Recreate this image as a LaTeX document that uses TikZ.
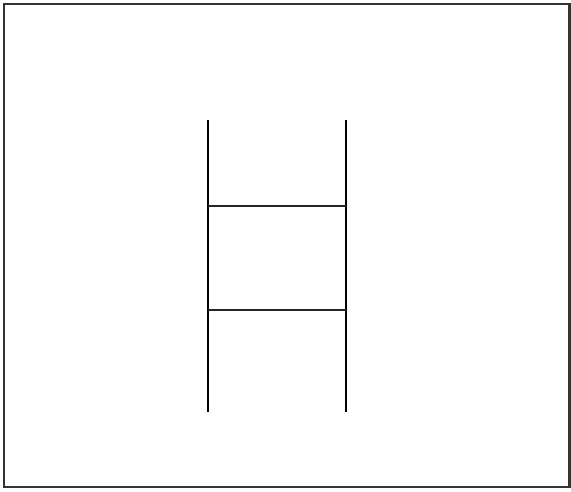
\documentclass[tikz,border=0pt]{standalone}
\usepackage{tikz}
\tikzset{
  frame/.style={draw=black!80, line width=1.2pt},
  rail/.style={draw=black, line width=1.1pt},
  rung/.style={draw=black!85, line width=1.1pt}
}

\begin{document}
\begin{tikzpicture}[x=0.02cm, y=-0.02cm]

    % bounding box (reference size)
    \useasboundingbox (0,0) rectangle (571,491);

    % outer frame
    \draw[frame] (4,4) rectangle (569.5,487);

    % rails
    \coordinate (LT) at (208,120);
    \coordinate (LB) at (208,412);
    \coordinate (RT) at (346,120);
    \coordinate (RB) at (346,412);
    \draw[rail] (LT) -- (LB);
    \draw[rail] (RT) -- (RB);

    % rungs
    \coordinate (L1) at (208,206);
    \coordinate (R1) at (346,206);
    \coordinate (L2) at (208,310);
    \coordinate (R2) at (346,310);
    \draw[rung] (L1) -- (R1);
    \draw[rung] (L2) -- (R2);

\end{tikzpicture}
\end{document}
